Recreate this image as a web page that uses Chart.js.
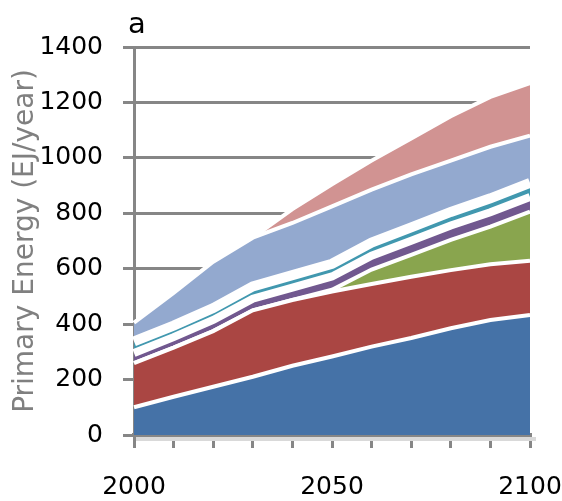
<!DOCTYPE html>
<html lang="en">
<head>
    <meta charset="UTF-8">
    <title>Primary Energy</title>
    <script src="https://cdn.jsdelivr.net/npm/chart.js"></script>
    <style>
        html, body { margin: 0; padding: 0; background: #fff; }
        .chart-box { width: 562px; height: 501px; }
    </style>
</head>
<body>
    <div class="chart-box">
        <canvas id="energyChart"></canvas>
    </div>

    <script>
        const years = [2000, 2010, 2020, 2030, 2040, 2050, 2060, 2070, 2080, 2090, 2100];
        const yTicks = [0, 200, 400, 600, 800, 1000, 1200, 1400];
        const xLabels = [2000, 2050, 2100];

        // stacked layers, bottom to top (EJ/year)
        const blue = [100, 138, 174, 210, 250, 283, 319, 350, 385, 415, 433];
        const red = [159, 177, 201, 240, 237, 235, 226, 221, 210, 201, 196];
        const green = [0, 0, 0, 0, 0, 6, 52, 79, 109, 136, 177];
        const purple = [37, 38, 40, 42, 45, 48, 50, 51, 52, 52, 53];
        const teal = [42, 42, 43, 44, 45, 46, 47, 48, 49, 50, 51];
        const lightBlue = [67, 118, 167, 176, 188, 207, 191, 191, 185, 186, 170];
        const pink = [0, 0, 0, 0, 50, 80, 105, 130, 160, 180, 190];

        const layers = [
            { data: blue, color: '#4572A7', edge: 4 },
            { data: red, color: '#AA4643', edge: 4 },
            { data: green, color: '#89A54E', edge: 4 },
            { data: purple, color: '#71588F', edge: 8 },
            { data: teal, color: '#4198AF', edge: 10 },
            { data: lightBlue, color: '#93A9CF', edge: 4 },
            { data: pink, color: '#D19392', edge: 4 }
        ];

        const gray = '#868686';

        // panel letter + the light "floor" strip under the x axis
        const extras = {
            id: 'extras',
            afterDraw(chart) {
                const c = chart.ctx;
                const a = chart.chartArea;
                c.save();
                c.fillStyle = '#d9d9d9';
                c.fillRect(a.left + 2, a.bottom + 2, a.right - a.left + 4, 4);
                c.fillStyle = '#000';
                c.font = '29px "DejaVu Sans"';
                c.fillText('a', a.left - 6, 33);
                c.restore();
            }
        };

        new Chart(document.getElementById('energyChart'), {
            type: 'line',
            data: {
                labels: years,
                datasets: layers.map((l, i) => ({
                    data: l.data,
                    backgroundColor: l.color,
                    borderColor: '#ffffff',
                    borderWidth: l.edge,
                    fill: i === 0 ? 'origin' : '-1',
                    pointRadius: 0,
                    tension: 0
                }))
            },
            options: {
                responsive: true,
                maintainAspectRatio: false,
                animation: false,
                layout: { padding: { top: 47, right: 0, left: 0, bottom: 0 } },
                plugins: {
                    legend: { display: false },
                    tooltip: { enabled: false }
                },
                scales: {
                    x: {
                        offset: false,
                        grid: {
                            drawOnChartArea: false,
                            color: gray,
                            lineWidth: 3,
                            tickLength: 13
                        },
                        border: { color: gray, width: 4 },
                        ticks: {
                            autoSkip: false,
                            maxRotation: 0,
                            padding: 24,
                            color: '#000',
                            font: { family: 'DejaVu Sans', size: 25 },
                            callback: function (v) {
                                const yr = this.getLabelForValue(v);
                                return xLabels.includes(yr) ? String(yr) : '';
                            }
                        },
                        afterFit: s => {
                            s.height = 66;
                            s.paddingLeft = 0;
                            s.paddingRight = 32;
                        }
                    },
                    y: {
                        stacked: true,
                        min: 0,
                        max: 1400,
                        afterBuildTicks: s => { s.ticks = yTicks.map(v => ({ value: v })); },
                        grid: {
                            color: gray,
                            lineWidth: 3,
                            tickLength: 11
                        },
                        border: { color: gray, width: 3 },
                        ticks: {
                            padding: 20,
                            color: '#000',
                            font: { family: 'DejaVu Sans', size: 25 },
                            callback: v => String(v)
                        },
                        title: {
                            display: true,
                            text: 'Primary Energy (EJ/year)',
                            color: '#808080',
                            font: { family: 'DejaVu Sans', size: 28 },
                            padding: { top: 9, bottom: 0 }
                        },
                        afterFit: s => { s.width = 134; }
                    }
                }
            },
            plugins: [extras]
        });
    </script>
</body>
</html>
